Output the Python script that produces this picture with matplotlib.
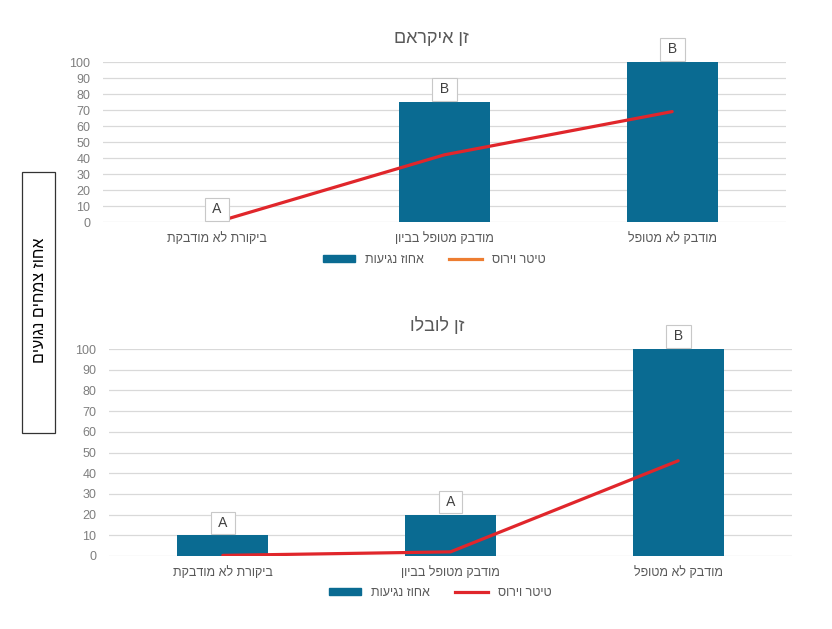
"""Two-panel bar + line chart: infection % and virus titer per treatment, two cultivars."""

import matplotlib
matplotlib.use("Agg")
import matplotlib.pyplot as plt
from matplotlib.lines import Line2D
from matplotlib.patches import Patch, Rectangle

plt.rcParams["font.family"] = ["Liberation Sans", "DejaVu Sans"]

# matplotlib has no bidi support, so Hebrew strings are reversed before drawing
def rtl(s: str) -> str:
    return s[::-1]

CATEGORIES = ["ביקורת לא מודבקת", "מודבק מטופל בביון", "מודבק לא מטופל"]
TITLES = ["זן איקראם", "זן לובלו"]
BAR_LABEL = "אחוז נגיעות"
LINE_LABEL = "טיטר וירוס"
Y_LABEL = "אחוז צמחים נגועים"

ICRAM_INFECTION = [0, 75, 100]
ICRAM_TITER = [0, 42, 69]
ICRAM_LETTERS = ["A", "B", "B"]

LUBLO_INFECTION = [10, 20, 100]
LUBLO_TITER = [0.3, 2, 46]
LUBLO_LETTERS = ["A", "A", "B"]

BLUE = "#0A6B92"
RED = "#E0262B"
ORANGE = "#ED7D31"
GREY = "#595959"
LIGHT_GREY = "#7F7F7F"
GRID = "#D9D9D9"

W, H = 832, 629
fig = plt.figure(figsize=(W / 100, H / 100), dpi=100)
fig.patch.set_facecolor("white")


def panel(rect, bars, line, letters, title, title_xy, legend_xy, legend_line_color):
    ax = fig.add_axes(rect)
    x = range(len(CATEGORIES))
    ax.bar(x, bars, width=0.4, color=BLUE, zorder=2)
    ax.plot(x, line, color=RED, lw=2.3, zorder=3, solid_capstyle="round")
    ax.set_xlim(-0.5, 2.5)
    ax.set_ylim(0, 100)
    ax.set_yticks(range(0, 101, 10))
    ax.set_xticks(list(x))
    ax.set_xticklabels([rtl(c) for c in CATEGORIES], fontsize=9, color=GREY)
    ax.tick_params(axis="y", labelsize=9, labelcolor=LIGHT_GREY, length=0, pad=9)
    ax.tick_params(axis="x", length=0, pad=7)
    ax.grid(axis="y", color=GRID, lw=0.9, zorder=0)
    for s in ax.spines.values():
        s.set_visible(False)
    for xi, v, lt in zip(x, bars, letters):
        ax.annotate(f" {lt} ", (xi, v), xytext=(0, 4), textcoords="offset points",
                    ha="center", va="bottom", fontsize=10, color="#404040",
                    bbox=dict(boxstyle="square,pad=0.3", fc="white", ec="#C8C8C8", lw=0.8),
                    zorder=4)
    fig.text(title_xy[0] / W, 1 - title_xy[1] / H, rtl(title), ha="center", va="center",
             fontsize=13, color=GREY)
    handles = [Patch(color=BLUE), Line2D([], [], color=legend_line_color, lw=2.3)]
    ax.legend(handles, [rtl(BAR_LABEL), rtl(LINE_LABEL)], loc="center", ncol=2,
              bbox_to_anchor=(legend_xy[0] / W, 1 - legend_xy[1] / H),
              bbox_transform=fig.transFigure, frameon=False, fontsize=9,
              labelcolor=GREY, handlelength=2.6, handleheight=0.5, columnspacing=2.0)
    return ax


panel([103 / W, 1 - 222 / H, 683 / W, 160 / H], ICRAM_INFECTION, ICRAM_TITER, ICRAM_LETTERS,
      TITLES[0], (431, 38), (434, 260), ORANGE)
panel([109 / W, 1 - 556 / H, 683 / W, 207 / H], LUBLO_INFECTION, LUBLO_TITER, LUBLO_LETTERS,
      TITLES[1], (437, 326), (440, 593), RED)

# boxed y label shared by both panels
fig.add_artist(Rectangle((22 / W, 1 - 433 / H), 33 / W, 261 / H, transform=fig.transFigure,
                         fill=False, ec="#333333", lw=0.9))
fig.text(39 / W, 1 - 300 / H, rtl(Y_LABEL), rotation=90, ha="center", va="center",
         fontsize=11.5, color="black")

fig.savefig("out.png", dpi=100)
